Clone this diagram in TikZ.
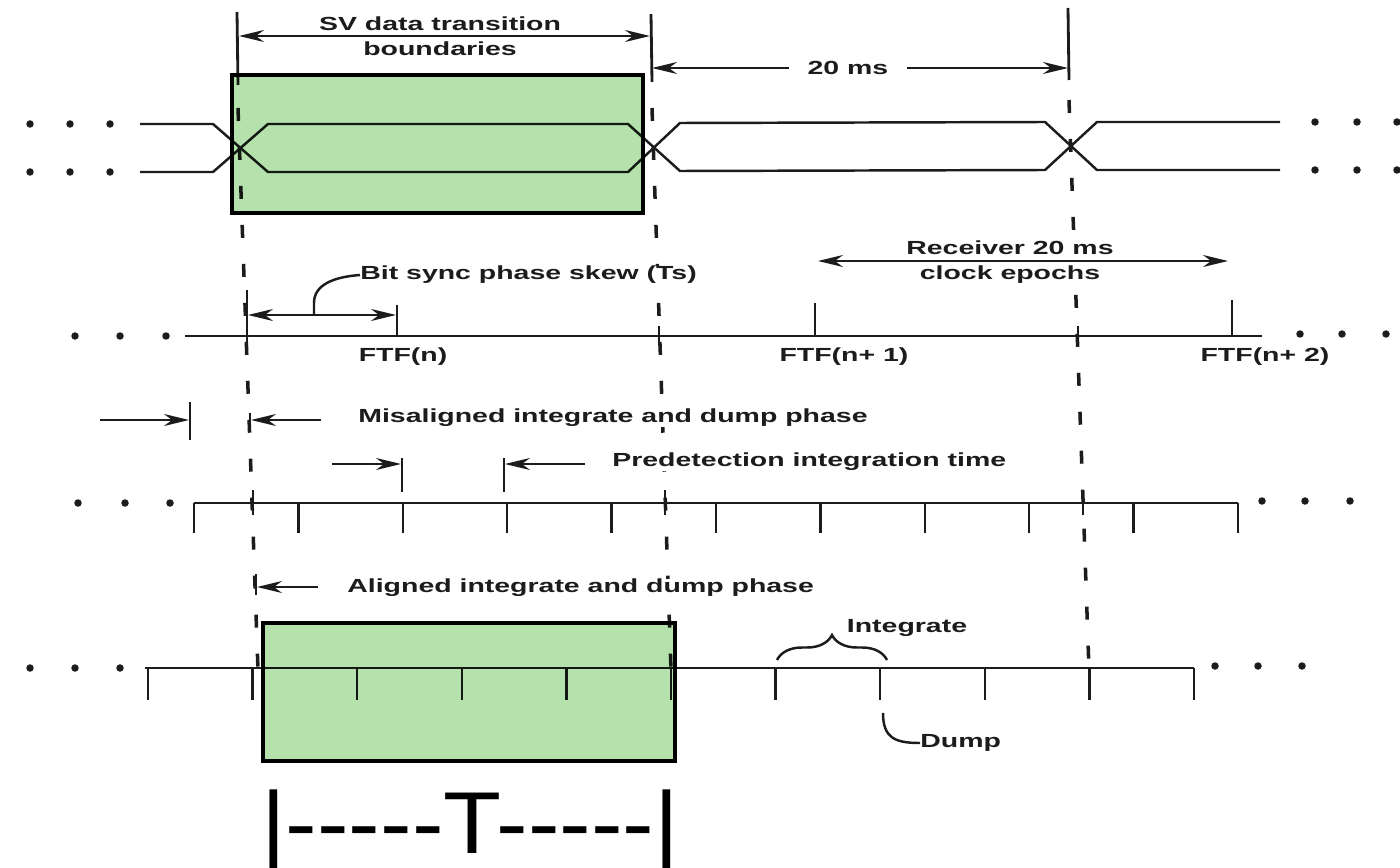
\documentclass[tikz,border=0pt]{standalone}
\usepackage{fontspec}
\setmainfont{Liberation Sans}
\newfontfamily\scanfont[FakeStretch=1.5]{Liberation Sans}
\newfontfamily\bigfont[FakeStretch=1.08]{Liberation Sans}
\usetikzlibrary{arrows.meta,decorations.pathreplacing}
\definecolor{TdInk}{RGB}{28,28,28}
\definecolor{TdGreen}{RGB}{180,225,172}
\tikzset{
  td/line/.style={draw=TdInk, line width=1.4pt},
  td/guide/.style={draw=TdInk, line width=2pt, dash pattern=on 0.26cm off 0.52cm},
  td/label/.style={font=\scanfont\bfseries\fontsize{10.8}{13}\selectfont, text=TdInk, fill=white, inner sep=0pt, align=center},
  td/arrow/.style={-{Stealth[length=0.5cm,width=0.24cm]}, td/line},
  td/dbl/.style={{Stealth[length=0.5cm,width=0.24cm]}-{Stealth[length=0.5cm,width=0.24cm]}, td/line},
  td/window/.style={fill=TdGreen},
  td/frame/.style={draw=black, line width=1.8pt},
  td/big/.style={font=\bigfont\fontsize{50}{50}\selectfont, text=black, inner sep=0pt}
}
\begin{document}
\begin{tikzpicture}[x=0.02cm,y=-0.02cm]
  \useasboundingbox[fill=white] (0,0) rectangle (1400,868);

  % guide lines (SV bit edges)
  \draw[td/line,line width=1.6pt] (237,12) -- (238,85);
  \draw[td/line,line width=1.6pt] (651,14) -- (652,82);
  \draw[td/line,line width=1.6pt] (1068,8) -- (1069,80);
  \draw[td/guide] (238,108) -- (258,670);
  \draw[td/guide] (652,108) -- (671,670);
  \draw[td/guide] (1069,100) -- (1089,670);

  % SV data waveform
  \draw[td/line] (140,124) -- (213,124) -- (268,172) -- (628,172) -- (680,123) -- (1045,122) -- (1097,170) -- (1280,170);
  \draw[td/line] (140,172) -- (213,172) -- (268,124) -- (628,124) -- (680,171) -- (1045,170) -- (1097,122) -- (1280,122);
  \foreach \x in {30,70,110} {
    \fill[TdInk] (\x,124) circle[radius=0.075cm];
    \fill[TdInk] (\x,172) circle[radius=0.075cm];
  }
  \foreach \x in {1315,1357,1397} {
    \fill[TdInk] (\x,122) circle[radius=0.075cm];
    \fill[TdInk] (\x,170) circle[radius=0.075cm];
  }

  \node[td/label] (svlbl) at (440,36) {SV data transition\\[1pt]boundaries};
  \draw[td/dbl] (239,36) -- (650,36);
  \node[td/label, inner xsep=0.36cm] (ms20) at (848,68) {20 ms};
  \draw[td/arrow] (ms20.west) -- (652,68);
  \draw[td/arrow] (ms20.east) -- (1068,68);

  % receiver FTF epochs
  \draw[td/line] (185,336) -- (1262,336);
  \foreach \x in {75,120,166} \fill[TdInk] (\x,336) circle[radius=0.075cm];
  \foreach \x in {1300,1342,1386} \fill[TdInk] (\x,334) circle[radius=0.075cm];
  \draw[td/line] (247,290) -- (247,346);
  \draw[td/line] (659,326) -- (659,346);
  \draw[td/line] (1078,326) -- (1078,346);
  \draw[td/line] (397,305) -- (397,336);
  \draw[td/line] (815,303) -- (815,336);
  \draw[td/line] (1232,300) -- (1232,336);
  \draw[td/dbl] (248,315) -- (396,315);
  \node[td/label, anchor=west] (skew) at (360,275) {Bit sync phase skew (Ts)};
  \draw[td/line] (314,315) -- (314,303) .. controls (314,285) and (333,277) .. (skew.west);
  \node[td/label] (ftf0) at (403,357) {FTF(n)};
  \node[td/label] (ftf1) at (844,357) {FTF(n+ 1)};
  \node[td/label] (ftf2) at (1265,357) {FTF(n+ 2)};
  \node[td/label] (rcv) at (1010,262) {Receiver 20 ms\\[1pt]clock epochs};
  \draw[td/dbl] (818,261) -- (1228,261);

  % misaligned integrate and dump
  \draw[td/arrow] (100,420) -- (189,420);
  \draw[td/line] (190,402) -- (190,440);
  \draw[td/line] (250,413) -- (250,428);
  \draw[td/arrow] (321,420) -- (251,420);
  \node[td/label, anchor=west] (mis) at (358,418) {Misaligned integrate and dump phase};
  \draw[td/arrow] (332,464) -- (401,464);
  \draw[td/line] (402,458) -- (402,492);
  \draw[td/line] (504,458) -- (504,492);
  \draw[td/arrow] (585,464) -- (505,464);
  \node[td/label, anchor=west] (pre) at (612,462) {Predetection integration time};

  \draw[td/line] (194,503) -- (1238,503);
  \foreach \i in {0,...,10} \draw[td/line] ({194+104.4*\i},503) -- ({194+104.4*\i},533);
  \foreach \x in {253,665,1083} \draw[td/line] (\x,490) -- (\x,515);
  \foreach \x in {78,125,170} \fill[TdInk] (\x,503) circle[radius=0.075cm];
  \foreach \x in {1262,1305,1350} \fill[TdInk] (\x,501) circle[radius=0.075cm];

  % aligned integrate and dump
  \draw[td/line] (256,574) -- (256,595);
  \draw[td/arrow] (318,587) -- (257,587);
  \node[td/label, anchor=west] (ali) at (347,588) {Aligned integrate and dump phase};

  \draw[td/line] (145,668) -- (1194,668);
  \foreach \i in {0,...,10} \draw[td/line] ({148+104.6*\i},668) -- ({148+104.6*\i},700);
  \foreach \x in {30,75,120} \fill[TdInk] (\x,668) circle[radius=0.075cm];
  \foreach \x in {1215,1258,1302} \fill[TdInk] (\x,666) circle[radius=0.075cm];

  \draw[td/line, decorate, decoration={brace, amplitude=0.5cm}] (777,660) -- (887,660);
  \node[td/label] (integ) at (907,628) {Integrate};
  \node[td/label, anchor=west] (dump) at (920,743) {Dump};
  \draw[td/line] (883,713) .. controls (883,738) and (895,743) .. (dump.west);

  % highlighted windows
  \begin{scope}[blend mode=multiply]
    \fill[td/window] (232,75) rectangle (643,213);
    \fill[td/window] (263,623) rectangle (675,761);
  \end{scope}
  \draw[td/frame] (232,75) rectangle (643,213);
  \draw[td/frame] (263,623) rectangle (675,761);

  \node[td/big, anchor=base] (tbar) at (470,853) {|-{}-{}-{}-{}-T-{}-{}-{}-{}-|};
\end{tikzpicture}
\end{document}
